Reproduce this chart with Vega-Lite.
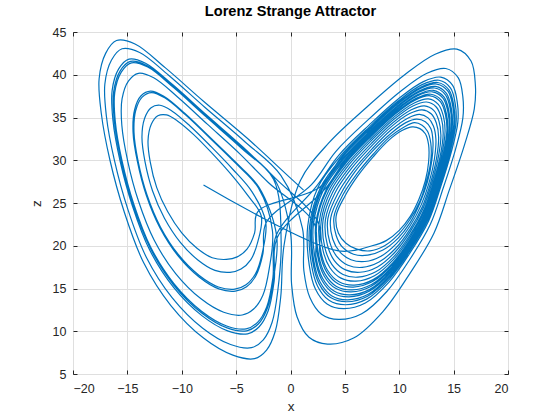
{
"$schema": "https://vega.github.io/schema/vega-lite/v6.json",
"width": 435, "height": 342,
"autosize": {"type": "none"},
"padding": {"left": 73, "top": 32, "right": 52, "bottom": 46},
"background": "white",
"title": {"text": "Lorenz Strange Attractor", "fontSize": 14.6, "fontWeight": "bold", "color": "black", "offset": 7, "anchor": "middle"},
"config": {
  "font": "Liberation Sans",
  "view": {"stroke": "#262626", "strokeWidth": 1},
  "axis": {"domain": false, "tickColor": "#262626", "labelColor": "#262626", "labelFontSize": 12.5, "titleColor": "#262626", "titleFontSize": 13.5, "titleFontWeight": "normal", "gridColor": "#dfdfdf", "gridWidth": 1}
},
"data": {"values": [
{"i":0,"x":-8.0,"z":27.1},{"i":1,"x":4.4,"z":19.4},
{"i":2,"x":7.5,"z":20.0},{"i":3,"x":8.8,"z":20.6},{"i":4,"x":10.0,"z":21.8},{"i":5,"x":11.0,"z":23.4},{"i":6,"x":11.8,"z":25.4},{"i":7,"x":12.4,"z":27.6},{"i":8,"x":12.7,"z":29.8},{"i":9,"x":12.7,"z":31.8},{"i":10,"x":12.4,"z":33.1},{"i":11,"x":11.9,"z":33.7},{"i":12,"x":11.2,"z":33.9},{"i":13,"x":10.3,"z":33.5},{"i":14,"x":9.0,"z":32.3},{"i":15,"x":7.6,"z":30.4},{"i":16,"x":6.2,"z":28.2},{"i":17,"x":5.0,"z":25.8},
{"i":18,"x":4.2,"z":23.5},{"i":19,"x":4.4,"z":21.5},{"i":20,"x":5.1,"z":20.3},{"i":21,"x":6.1,"z":19.6},{"i":22,"x":7.3,"z":19.4},{"i":23,"x":8.65,"z":20.0},{"i":24,"x":9.9,"z":21.3},{"i":25,"x":11.0,"z":23.1},{"i":26,"x":11.9,"z":25.2},{"i":27,"x":12.5,"z":27.5},{"i":28,"x":12.9,"z":29.9},{"i":29,"x":12.9,"z":32.0},{"i":30,"x":12.6,"z":33.4},{"i":31,"x":12.1,"z":34.1},{"i":32,"x":11.4,"z":34.4},{"i":33,"x":10.45,"z":33.9},{"i":34,"x":9.1,"z":32.7},{"i":35,"x":7.6,"z":30.7},{"i":36,"x":6.1,"z":28.4},{"i":37,"x":4.8,"z":25.9},
{"i":38,"x":4.0,"z":23.4},{"i":39,"x":4.2,"z":21.2},{"i":40,"x":4.8,"z":19.8},{"i":41,"x":5.8,"z":19.0},{"i":42,"x":7.1,"z":18.9},{"i":43,"x":8.5,"z":19.5},{"i":44,"x":9.9,"z":20.9},{"i":45,"x":11.0,"z":22.7},{"i":46,"x":11.9,"z":25.0},{"i":47,"x":12.6,"z":27.5},{"i":48,"x":13.0,"z":30.0},{"i":49,"x":13.1,"z":32.2},{"i":50,"x":12.9,"z":33.7},{"i":51,"x":12.4,"z":34.5},{"i":52,"x":11.6,"z":34.8},{"i":53,"x":10.6,"z":34.4},{"i":54,"x":9.2,"z":33.1},{"i":55,"x":7.5,"z":31.0},{"i":56,"x":5.9,"z":28.6},{"i":57,"x":4.6,"z":26.0},
{"i":58,"x":3.7,"z":23.26},{"i":59,"x":3.88,"z":20.79},{"i":60,"x":4.55,"z":19.26},{"i":61,"x":5.56,"z":18.37},{"i":62,"x":6.84,"z":18.16},{"i":63,"x":8.32,"z":18.78},{"i":64,"x":9.76,"z":20.28},{"i":65,"x":11.0,"z":22.34},{"i":66,"x":12.02,"z":24.78},{"i":67,"x":12.75,"z":27.42},{"i":68,"x":13.23,"z":30.12},{"i":69,"x":13.37,"z":32.47},{"i":70,"x":13.14,"z":34.01},{"i":71,"x":12.65,"z":34.96},{"i":72,"x":11.86,"z":35.36},{"i":73,"x":10.78,"z":34.92},{"i":74,"x":9.24,"z":33.53},{"i":75,"x":7.5,"z":31.33},{"i":76,"x":5.77,"z":28.81},{"i":77,"x":4.34,"z":26.09},
{"i":78,"x":3.43,"z":23.14},{"i":79,"x":3.61,"z":20.41},{"i":80,"x":4.27,"z":18.72},{"i":81,"x":5.29,"z":17.72},{"i":82,"x":6.6,"z":17.47},{"i":83,"x":8.14,"z":18.09},{"i":84,"x":9.67,"z":19.71},{"i":85,"x":11.0,"z":21.95},{"i":86,"x":12.11,"z":24.54},{"i":87,"x":12.88,"z":27.36},{"i":88,"x":13.43,"z":30.24},{"i":89,"x":13.62,"z":32.72},{"i":90,"x":13.41,"z":34.35},{"i":91,"x":12.93,"z":35.44},{"i":92,"x":12.1,"z":35.9},{"i":93,"x":10.96,"z":35.46},{"i":94,"x":9.33,"z":33.99},{"i":95,"x":7.47,"z":31.68},{"i":96,"x":5.61,"z":29.04},{"i":97,"x":4.1,"z":26.2},
{"i":98,"x":3.21,"z":23.03},{"i":99,"x":3.39,"z":20.1},{"i":100,"x":4.03,"z":18.27},{"i":101,"x":5.06,"z":17.18},{"i":102,"x":6.39,"z":16.9},{"i":103,"x":7.99,"z":17.52},{"i":104,"x":9.6,"z":19.24},{"i":105,"x":11.0,"z":21.62},{"i":106,"x":12.18,"z":24.35},{"i":107,"x":12.99,"z":27.3},{"i":108,"x":13.59,"z":30.34},{"i":109,"x":13.83,"z":32.93},{"i":110,"x":13.64,"z":34.64},{"i":111,"x":13.17,"z":35.83},{"i":112,"x":12.31,"z":36.36},{"i":113,"x":11.11,"z":35.9},{"i":114,"x":9.41,"z":34.38},{"i":115,"x":7.44,"z":31.97},{"i":116,"x":5.47,"z":29.23},{"i":117,"x":3.89,"z":26.29},
{"i":118,"x":2.99,"z":22.93},{"i":119,"x":3.16,"z":19.78},{"i":120,"x":3.8,"z":17.82},{"i":121,"x":4.83,"z":16.64},{"i":122,"x":6.19,"z":16.32},{"i":123,"x":7.84,"z":16.95},{"i":124,"x":9.52,"z":18.76},{"i":125,"x":11.0,"z":21.29},{"i":126,"x":12.25,"z":24.15},{"i":127,"x":13.1,"z":27.25},{"i":128,"x":13.76,"z":30.44},{"i":129,"x":14.04,"z":33.14},{"i":130,"x":13.87,"z":34.92},{"i":131,"x":13.4,"z":36.23},{"i":132,"x":12.51,"z":36.81},{"i":133,"x":11.26,"z":36.35},{"i":134,"x":9.48,"z":34.76},{"i":135,"x":7.41,"z":32.26},{"i":136,"x":5.34,"z":29.42},{"i":137,"x":3.69,"z":26.38},
{"i":138,"x":2.82,"z":22.84},{"i":139,"x":2.98,"z":19.53},{"i":140,"x":3.61,"z":17.46},{"i":141,"x":4.64,"z":16.21},{"i":142,"x":6.02,"z":15.86},{"i":143,"x":7.72,"z":16.5},{"i":144,"x":9.46,"z":18.38},{"i":145,"x":11.0,"z":21.02},{"i":146,"x":12.3,"z":24.0},{"i":147,"x":13.19,"z":27.2},{"i":148,"x":13.89,"z":30.52},{"i":149,"x":14.21,"z":33.31},{"i":150,"x":14.06,"z":35.15},{"i":151,"x":13.59,"z":36.54},{"i":152,"x":12.68,"z":37.18},{"i":153,"x":11.38,"z":36.7},{"i":154,"x":9.54,"z":35.07},{"i":155,"x":7.38,"z":32.49},{"i":156,"x":5.23,"z":29.57},{"i":157,"x":3.52,"z":26.45},
{"i":158,"x":2.64,"z":22.76},{"i":159,"x":2.8,"z":19.28},{"i":160,"x":3.42,"z":17.1},{"i":161,"x":4.46,"z":15.78},{"i":162,"x":5.86,"z":15.4},{"i":163,"x":7.6,"z":16.04},{"i":164,"x":9.4,"z":18.0},{"i":165,"x":11.0,"z":20.76},{"i":166,"x":12.36,"z":23.84},{"i":167,"x":13.28,"z":27.16},{"i":168,"x":14.02,"z":30.6},{"i":169,"x":14.38,"z":33.48},{"i":170,"x":14.24,"z":35.38},{"i":171,"x":13.78,"z":36.86},{"i":172,"x":12.84,"z":37.54},{"i":173,"x":11.5,"z":37.06},{"i":174,"x":9.6,"z":35.38},{"i":175,"x":7.36,"z":32.72},{"i":176,"x":5.12,"z":29.72},{"i":177,"x":3.36,"z":26.52},
{"i":178,"x":2.42,"z":22.66},{"i":179,"x":2.58,"z":18.97},{"i":180,"x":3.19,"z":16.65},{"i":181,"x":4.23,"z":15.24},{"i":182,"x":5.66,"z":14.83},{"i":183,"x":7.45,"z":15.47},{"i":184,"x":9.33,"z":17.53},{"i":185,"x":11.0,"z":20.43},{"i":186,"x":12.43,"z":23.65},{"i":187,"x":13.39,"z":27.11},{"i":188,"x":14.19,"z":30.7},{"i":189,"x":14.59,"z":33.69},{"i":190,"x":14.47,"z":35.67},{"i":191,"x":14.02,"z":37.26},{"i":192,"x":13.05,"z":38.0},{"i":193,"x":11.65,"z":37.51},{"i":194,"x":9.68,"z":35.77},{"i":195,"x":7.33,"z":33.01},{"i":196,"x":4.99,"z":29.91},{"i":197,"x":3.16,"z":26.61},
{"i":198,"x":-1.2,"z":21.0},{"i":199,"x":-1.5,"z":15.88},{"i":200,"x":-2.05,"z":12.4},{"i":201,"x":-2.88,"z":10.53},{"i":202,"x":-3.95,"z":9.7},{"i":203,"x":-5.78,"z":10.05},{"i":204,"x":-8.15,"z":11.83},{"i":205,"x":-10.75,"z":15.13},{"i":206,"x":-12.95,"z":19.5},{"i":207,"x":-14.55,"z":24.7},{"i":208,"x":-15.68,"z":29.95},{"i":209,"x":-16.33,"z":34.7},{"i":210,"x":-16.4,"z":38.18},{"i":211,"x":-15.8,"z":40.68},{"i":212,"x":-14.85,"z":41.83},{"i":213,"x":-13.33,"z":41.35},{"i":214,"x":-10.85,"z":38.85},{"i":215,"x":-7.8,"z":35.38},{"i":216,"x":-4.38,"z":31.55},{"i":217,"x":-1.38,"z":27.88},
{"i":218,"x":2.55,"z":22.72},{"i":219,"x":2.71,"z":19.15},{"i":220,"x":3.33,"z":16.92},{"i":221,"x":4.37,"z":15.56},{"i":222,"x":5.78,"z":15.17},{"i":223,"x":7.54,"z":15.81},{"i":224,"x":9.37,"z":17.81},{"i":225,"x":11.0,"z":20.63},{"i":226,"x":12.39,"z":23.76},{"i":227,"x":13.32,"z":27.14},{"i":228,"x":14.09,"z":30.64},{"i":229,"x":14.46,"z":33.56},{"i":230,"x":14.33,"z":35.49},{"i":231,"x":13.87,"z":37.02},{"i":232,"x":12.92,"z":37.72},{"i":233,"x":11.56,"z":37.24},{"i":234,"x":9.63,"z":35.53},{"i":235,"x":7.35,"z":32.84},{"i":236,"x":5.07,"z":29.8},{"i":237,"x":3.28,"z":26.56},
{"i":238,"x":2.33,"z":22.61},{"i":239,"x":2.49,"z":18.84},{"i":240,"x":3.09,"z":16.47},{"i":241,"x":4.14,"z":15.02},{"i":242,"x":5.57,"z":14.6},{"i":243,"x":7.39,"z":15.24},{"i":244,"x":9.3,"z":17.34},{"i":245,"x":11.0,"z":20.3},{"i":246,"x":12.46,"z":23.57},{"i":247,"x":13.43,"z":27.08},{"i":248,"x":14.25,"z":30.74},{"i":249,"x":14.67,"z":33.77},{"i":250,"x":14.56,"z":35.78},{"i":251,"x":14.11,"z":37.41},{"i":252,"x":13.13,"z":38.18},{"i":253,"x":11.71,"z":37.68},{"i":254,"x":9.71,"z":35.92},{"i":255,"x":7.32,"z":33.13},{"i":256,"x":4.93,"z":29.99},{"i":257,"x":3.07,"z":26.65},
{"i":258,"x":2.11,"z":22.51},{"i":259,"x":2.26,"z":18.52},{"i":260,"x":2.86,"z":16.02},{"i":261,"x":3.91,"z":14.48},{"i":262,"x":5.37,"z":14.02},{"i":263,"x":7.24,"z":14.67},{"i":264,"x":9.22,"z":16.86},{"i":265,"x":11.0,"z":19.97},{"i":266,"x":12.53,"z":23.37},{"i":267,"x":13.54,"z":27.03},{"i":268,"x":14.42,"z":30.84},{"i":269,"x":14.88,"z":33.98},{"i":270,"x":14.79,"z":36.06},{"i":271,"x":14.34,"z":37.81},{"i":272,"x":13.33,"z":38.63},{"i":273,"x":11.86,"z":38.13},{"i":274,"x":9.78,"z":36.3},{"i":275,"x":7.29,"z":33.42},{"i":276,"x":4.8,"z":30.18},{"i":277,"x":2.87,"z":26.74},
{"i":278,"x":1.89,"z":22.4},{"i":279,"x":2.04,"z":18.21},{"i":280,"x":2.62,"z":15.57},{"i":281,"x":3.68,"z":13.94},{"i":282,"x":5.16,"z":13.45},{"i":283,"x":7.09,"z":14.1},{"i":284,"x":9.15,"z":16.39},{"i":285,"x":11.0,"z":19.64},{"i":286,"x":12.6,"z":23.18},{"i":287,"x":13.65,"z":26.97},{"i":288,"x":14.58,"z":30.94},{"i":289,"x":15.09,"z":34.19},{"i":290,"x":15.02,"z":36.35},{"i":291,"x":14.58,"z":38.2},{"i":292,"x":13.54,"z":39.09},{"i":293,"x":12.01,"z":38.57},{"i":294,"x":9.86,"z":36.69},{"i":295,"x":7.26,"z":33.71},{"i":296,"x":4.66,"z":30.37},{"i":297,"x":2.66,"z":26.83},
{"i":298,"x":-3.0,"z":24.0},{"i":299,"x":-3.3,"z":21.5},{"i":300,"x":-4.0,"z":19.6},{"i":301,"x":-4.9,"z":18.7},{"i":302,"x":-5.9,"z":18.4},{"i":303,"x":-7.2,"z":18.6},{"i":304,"x":-8.6,"z":19.7},{"i":305,"x":-10.0,"z":21.5},{"i":306,"x":-11.3,"z":24.0},{"i":307,"x":-12.3,"z":26.8},{"i":308,"x":-12.9,"z":29.8},{"i":309,"x":-13.1,"z":32.3},{"i":310,"x":-12.8,"z":34.2},{"i":311,"x":-12.2,"z":35.2},{"i":312,"x":-11.4,"z":35.3},{"i":313,"x":-10.4,"z":34.6},{"i":314,"x":-8.9,"z":33.0},{"i":315,"x":-7.2,"z":30.8},{"i":316,"x":-5.5,"z":28.4},{"i":317,"x":-4.0,"z":26.0},
{"i":318,"x":-2.69,"z":23.48},{"i":319,"x":-2.99,"z":20.53},{"i":320,"x":-3.66,"z":18.35},{"i":321,"x":-4.55,"z":17.28},{"i":322,"x":-5.56,"z":16.89},{"i":323,"x":-6.95,"z":17.12},{"i":324,"x":-8.52,"z":18.34},{"i":325,"x":-10.13,"z":20.4},{"i":326,"x":-11.59,"z":23.22},{"i":327,"x":-12.69,"z":26.44},{"i":328,"x":-13.38,"z":29.83},{"i":329,"x":-13.66,"z":32.72},{"i":330,"x":-13.42,"z":34.89},{"i":331,"x":-12.82,"z":36.15},{"i":332,"x":-12.0,"z":36.43},{"i":333,"x":-10.91,"z":35.77},{"i":334,"x":-9.24,"z":34.01},{"i":335,"x":-7.3,"z":31.59},{"i":336,"x":-5.31,"z":28.95},{"i":337,"x":-3.55,"z":26.33},
{"i":338,"x":-2.28,"z":22.8},{"i":339,"x":-2.58,"z":19.25},{"i":340,"x":-3.22,"z":16.72},{"i":341,"x":-4.09,"z":15.43},{"i":342,"x":-5.12,"z":14.92},{"i":343,"x":-6.63,"z":15.18},{"i":344,"x":-8.42,"z":16.55},{"i":345,"x":-10.3,"z":18.95},{"i":346,"x":-11.96,"z":22.2},{"i":347,"x":-13.2,"z":25.96},{"i":348,"x":-14.01,"z":29.86},{"i":349,"x":-14.39,"z":33.26},{"i":350,"x":-14.24,"z":35.79},{"i":351,"x":-13.64,"z":37.39},{"i":352,"x":-12.78,"z":37.91},{"i":353,"x":-11.57,"z":37.3},{"i":354,"x":-9.68,"z":35.34},{"i":355,"x":-7.44,"z":32.63},{"i":356,"x":-5.05,"z":29.66},{"i":357,"x":-2.95,"z":26.75},
{"i":358,"x":-1.66,"z":21.76},{"i":359,"x":-1.96,"z":17.3},{"i":360,"x":-2.54,"z":14.22},{"i":361,"x":-3.39,"z":12.6},{"i":362,"x":-4.44,"z":11.9},{"i":363,"x":-6.14,"z":12.22},{"i":364,"x":-8.26,"z":13.82},{"i":365,"x":-10.56,"z":16.74},{"i":366,"x":-12.53,"z":20.64},{"i":367,"x":-13.98,"z":25.23},{"i":368,"x":-14.97,"z":29.91},{"i":369,"x":-15.51,"z":34.09},{"i":370,"x":-15.49,"z":37.17},{"i":371,"x":-14.89,"z":39.29},{"i":372,"x":-13.98,"z":40.17},{"i":373,"x":-12.58,"z":39.64},{"i":374,"x":-10.36,"z":37.37},{"i":375,"x":-7.65,"z":34.22},{"i":376,"x":-4.66,"z":30.75},{"i":377,"x":-2.04,"z":27.4},
{"i":378,"x":2.2,"z":22.55},{"i":379,"x":2.35,"z":18.65},{"i":380,"x":2.95,"z":16.2},{"i":381,"x":4.0,"z":14.7},{"i":382,"x":5.45,"z":14.25},{"i":383,"x":7.3,"z":14.9},{"i":384,"x":9.25,"z":17.05},{"i":385,"x":11.0,"z":20.1},{"i":386,"x":12.5,"z":23.45},{"i":387,"x":13.5,"z":27.05},{"i":388,"x":14.35,"z":30.8},{"i":389,"x":14.8,"z":33.9},{"i":390,"x":14.7,"z":35.95},{"i":391,"x":14.25,"z":37.65},{"i":392,"x":13.25,"z":38.45},{"i":393,"x":11.8,"z":37.95},{"i":394,"x":9.75,"z":36.15},{"i":395,"x":7.3,"z":33.3},{"i":396,"x":4.85,"z":30.1},{"i":397,"x":2.95,"z":26.7},
{"i":398,"x":1.98,"z":22.45},{"i":399,"x":2.13,"z":18.34},{"i":400,"x":2.72,"z":15.75},{"i":401,"x":3.77,"z":14.16},{"i":402,"x":5.25,"z":13.68},{"i":403,"x":7.15,"z":14.33},{"i":404,"x":9.18,"z":16.58},{"i":405,"x":11.0,"z":19.77},{"i":406,"x":12.57,"z":23.26},{"i":407,"x":13.61,"z":27.0},{"i":408,"x":14.52,"z":30.9},{"i":409,"x":15.01,"z":34.11},{"i":410,"x":14.93,"z":36.24},{"i":411,"x":14.49,"z":38.05},{"i":412,"x":13.46,"z":38.91},{"i":413,"x":11.95,"z":38.4},{"i":414,"x":9.83,"z":36.54},{"i":415,"x":7.27,"z":33.59},{"i":416,"x":4.72,"z":30.29},{"i":417,"x":2.75,"z":26.79},
{"i":418,"x":1.76,"z":22.34},{"i":419,"x":1.9,"z":18.02},{"i":420,"x":2.48,"z":15.3},{"i":421,"x":3.54,"z":13.62},{"i":422,"x":5.04,"z":13.1},{"i":423,"x":7.0,"z":13.76},{"i":424,"x":9.1,"z":16.1},{"i":425,"x":11.0,"z":19.44},{"i":426,"x":12.64,"z":23.06},{"i":427,"x":13.72,"z":26.94},{"i":428,"x":14.68,"z":31.0},{"i":429,"x":15.22,"z":34.32},{"i":430,"x":15.16,"z":36.52},{"i":431,"x":14.72,"z":38.44},{"i":432,"x":13.66,"z":39.36},{"i":433,"x":12.1,"z":38.84},{"i":434,"x":9.9,"z":36.92},{"i":435,"x":7.24,"z":33.88},{"i":436,"x":4.58,"z":30.48},{"i":437,"x":2.54,"z":26.88},
{"i":438,"x":1.58,"z":22.26},{"i":439,"x":1.72,"z":17.77},{"i":440,"x":2.29,"z":14.94},{"i":441,"x":3.36,"z":13.19},{"i":442,"x":4.88,"z":12.64},{"i":443,"x":6.88,"z":13.3},{"i":444,"x":9.04,"z":15.72},{"i":445,"x":11.0,"z":19.18},{"i":446,"x":12.7,"z":22.9},{"i":447,"x":13.81,"z":26.9},{"i":448,"x":14.81,"z":31.08},{"i":449,"x":15.39,"z":34.49},{"i":450,"x":15.34,"z":36.75},{"i":451,"x":14.91,"z":38.76},{"i":452,"x":13.82,"z":39.72},{"i":453,"x":12.22,"z":39.2},{"i":454,"x":9.96,"z":37.23},{"i":455,"x":7.22,"z":34.11},{"i":456,"x":4.47,"z":30.63},{"i":457,"x":2.38,"z":26.95},
{"i":458,"x":-1.32,"z":21.2},{"i":459,"x":-1.62,"z":16.25},{"i":460,"x":-2.18,"z":12.88},{"i":461,"x":-3.01,"z":11.07},{"i":462,"x":-4.08,"z":10.28},{"i":463,"x":-5.87,"z":10.62},{"i":464,"x":-8.18,"z":12.35},{"i":465,"x":-10.7,"z":15.55},{"i":466,"x":-12.84,"z":19.8},{"i":467,"x":-14.4,"z":24.84},{"i":468,"x":-15.49,"z":29.94},{"i":469,"x":-16.11,"z":34.54},{"i":470,"x":-16.16,"z":37.91},{"i":471,"x":-15.56,"z":40.31},{"i":472,"x":-14.62,"z":41.39},{"i":473,"x":-13.13,"z":40.9},{"i":474,"x":-10.72,"z":38.46},{"i":475,"x":-7.76,"z":35.07},{"i":476,"x":-4.45,"z":31.34},{"i":477,"x":-1.55,"z":27.75},
{"i":478,"x":-0.86,"z":20.44},{"i":479,"x":-1.16,"z":14.83},{"i":480,"x":-1.69,"z":11.06},{"i":481,"x":-2.5,"z":9.0},{"i":482,"x":-3.59,"z":8.08},{"i":483,"x":-5.51,"z":8.45},{"i":484,"x":-8.07,"z":10.36},{"i":485,"x":-10.89,"z":13.94},{"i":486,"x":-13.26,"z":18.66},{"i":487,"x":-14.97,"z":24.31},{"i":488,"x":-16.19,"z":29.98},{"i":489,"x":-16.93,"z":35.15},{"i":490,"x":-17.07,"z":38.92},{"i":491,"x":-16.47,"z":41.7},{"i":492,"x":-15.49,"z":43.04},{"i":493,"x":-13.87,"z":42.61},{"i":494,"x":-11.21,"z":39.94},{"i":495,"x":-7.91,"z":36.23},{"i":496,"x":-4.17,"z":32.14},{"i":497,"x":-0.89,"z":28.23},
{"i":498,"x":1.1,"z":22.03},{"i":499,"x":1.23,"z":17.08},{"i":500,"x":1.78,"z":13.95},{"i":501,"x":2.85,"z":12.0},{"i":502,"x":4.43,"z":11.38},{"i":503,"x":6.55,"z":12.05},{"i":504,"x":8.88,"z":14.68},{"i":505,"x":11.0,"z":18.45},{"i":506,"x":12.85,"z":22.48},{"i":507,"x":14.05,"z":26.78},{"i":508,"x":15.18,"z":31.3},{"i":509,"x":15.85,"z":34.95},{"i":510,"x":15.85,"z":37.38},{"i":511,"x":15.43,"z":39.63},{"i":512,"x":14.28,"z":40.73},{"i":513,"x":12.55,"z":40.18},{"i":514,"x":10.13,"z":38.08},{"i":515,"x":7.15,"z":34.75},{"i":516,"x":4.18,"z":31.05},{"i":517,"x":1.93,"z":27.15},
{"i":518,"x":-2.23,"z":22.72},{"i":519,"x":-2.53,"z":19.1},{"i":520,"x":-3.17,"z":16.53},{"i":521,"x":-4.04,"z":15.21},{"i":522,"x":-5.07,"z":14.69},{"i":523,"x":-6.59,"z":14.95},{"i":524,"x":-8.41,"z":16.34},{"i":525,"x":-10.32,"z":18.78},{"i":526,"x":-12.0,"z":22.08},{"i":527,"x":-13.26,"z":25.9},{"i":528,"x":-14.08,"z":29.86},{"i":529,"x":-14.48,"z":33.32},{"i":530,"x":-14.34,"z":35.9},{"i":531,"x":-13.74,"z":37.54},{"i":532,"x":-12.87,"z":38.08},{"i":533,"x":-11.65,"z":37.48},{"i":534,"x":-9.73,"z":35.5},{"i":535,"x":-7.46,"z":32.75},{"i":536,"x":-5.02,"z":29.74},{"i":537,"x":-2.88,"z":26.8},
{"i":538,"x":-1.27,"z":21.12},{"i":539,"x":-1.57,"z":16.1},{"i":540,"x":-2.13,"z":12.69},{"i":541,"x":-2.96,"z":10.85},{"i":542,"x":-4.03,"z":10.05},{"i":543,"x":-5.83,"z":10.39},{"i":544,"x":-8.17,"z":12.14},{"i":545,"x":-10.72,"z":15.38},{"i":546,"x":-12.88,"z":19.68},{"i":547,"x":-14.46,"z":24.78},{"i":548,"x":-15.56,"z":29.94},{"i":549,"x":-16.2,"z":34.6},{"i":550,"x":-16.26,"z":38.02},{"i":551,"x":-15.66,"z":40.46},{"i":552,"x":-14.71,"z":41.56},{"i":553,"x":-13.21,"z":41.08},{"i":554,"x":-10.77,"z":38.62},{"i":555,"x":-7.78,"z":35.19},{"i":556,"x":-4.42,"z":31.42},{"i":557,"x":-1.48,"z":27.8},
{"i":558,"x":0.0,"z":21.5},{"i":559,"x":0.1,"z":15.5},{"i":560,"x":0.6,"z":11.7},{"i":561,"x":1.7,"z":9.3},{"i":562,"x":3.4,"z":8.5},{"i":563,"x":5.8,"z":9.2},{"i":564,"x":8.5,"z":12.3},{"i":565,"x":11.0,"z":16.8},{"i":566,"x":13.2,"z":21.5},{"i":567,"x":14.6,"z":26.5},{"i":568,"x":16.0,"z":31.8},{"i":569,"x":16.9,"z":36.0},{"i":570,"x":17.0,"z":38.8},{"i":571,"x":16.6,"z":41.6},{"i":572,"x":15.3,"z":43.0},{"i":573,"x":13.3,"z":42.4},{"i":574,"x":10.5,"z":40.0},{"i":575,"x":7.0,"z":36.2},{"i":576,"x":3.5,"z":32.0},{"i":577,"x":0.9,"z":27.6},
{"i":578,"x":-0.6,"z":20.0},{"i":579,"x":-0.9,"z":14.0},{"i":580,"x":-1.4,"z":10.0},{"i":581,"x":-2.2,"z":7.8},{"i":582,"x":-3.3,"z":6.8},{"i":583,"x":-5.3,"z":7.2},{"i":584,"x":-8.0,"z":9.2},{"i":585,"x":-11.0,"z":13.0},{"i":586,"x":-13.5,"z":18.0},{"i":587,"x":-15.3,"z":24.0},{"i":588,"x":-16.6,"z":30.0},{"i":589,"x":-17.4,"z":35.5},{"i":590,"x":-17.6,"z":39.5},{"i":591,"x":-17.0,"z":42.5},{"i":592,"x":-16.0,"z":44.0},{"i":593,"x":-14.3,"z":43.6},{"i":594,"x":-11.5,"z":40.8},{"i":595,"x":-8.0,"z":36.9},{"i":596,"x":-4.0,"z":32.6},{"i":597,"x":-0.5,"z":28.5},
{"i":598,"x":1.2,"z":26.5}
]},
"layer": [
  {
    "mark": {"type": "line", "color": "#0072BD", "strokeWidth": 1.2, "interpolate": "catmull-rom"},
    "encoding": {
      "x": {"field": "x", "type": "quantitative", "scale": {"domain": [-20, 20], "nice": false, "zero": false},
            "axis": {"orient": "bottom", "values": [-20,-15,-10,-5,0,5,10,15,20], "grid": true, "ticks": false, "labelPadding": 8, "title": "x", "titlePadding": 5}},
      "y": {"field": "z", "type": "quantitative", "scale": {"domain": [5, 45], "nice": false, "zero": false},
            "axis": {"orient": "left", "values": [5,10,15,20,25,30,35,40,45], "grid": true, "ticks": false, "labelPadding": 7, "title": "z", "titlePadding": 9}},
      "order": {"field": "i", "type": "quantitative"}
    }
  },
  {
    "mark": {"type": "line", "opacity": 0},
    "encoding": {
      "x": {"field": "x", "type": "quantitative", "axis": {"orient": "top", "offset": -342, "values": [-20,-15,-10,-5,0,5,10,15,20], "grid": false, "labels": false, "tickSize": 4, "title": null}},
      "y": {"field": "z", "type": "quantitative", "axis": {"orient": "right", "offset": -435, "values": [5,10,15,20,25,30,35,40,45], "grid": false, "labels": false, "tickSize": 4, "title": null}},
      "order": {"field": "i", "type": "quantitative"}
    }
  },
  {
    "mark": {"type": "line", "opacity": 0},
    "encoding": {
      "x": {"field": "x", "type": "quantitative", "axis": {"orient": "bottom", "offset": -342, "values": [-20,-15,-10,-5,0,5,10,15,20], "grid": false, "labels": false, "tickSize": 4, "title": null}},
      "y": {"field": "z", "type": "quantitative", "axis": {"orient": "left", "offset": -435, "values": [5,10,15,20,25,30,35,40,45], "grid": false, "labels": false, "tickSize": 4, "title": null}},
      "order": {"field": "i", "type": "quantitative"}
    }
  }
],
"resolve": {"axis": {"x": "independent", "y": "independent"}}
}
